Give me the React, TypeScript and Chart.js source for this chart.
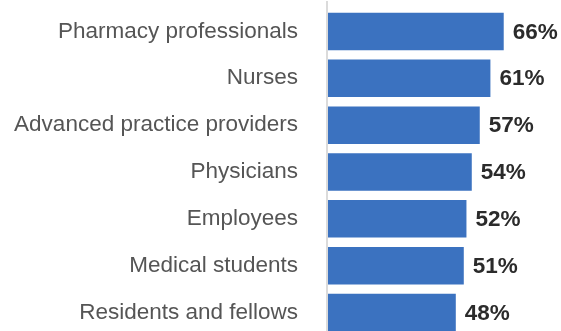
import React, { useEffect, useRef } from "react";
import { Chart, registerables } from "chart.js";

Chart.register(...registerables);

const categories = [
  "Pharmacy professionals",
  "Nurses",
  "Advanced practice providers",
  "Physicians",
  "Employees",
  "Medical students",
  "Residents and fellows",
];
const values = [66, 61, 57, 54, 52, 51, 48];
const valueLabels = ["66%", "61%", "57%", "54%", "52%", "51%", "48%"];

const BAR_COLOR = "#3B72C0";
const LABEL_COLOR = "#555555";
const VALUE_COLOR = "#2b2b2b";
const AXIS_COLOR = "#cfcfcf";

export default function App() {
  const ref = useRef<HTMLCanvasElement | null>(null);

  useEffect(() => {
    if (!ref.current) return;
    const valuePlugin = {
      id: "valueLabels",
      afterDatasetsDraw(chart: any) {
        const ctx = chart.ctx;
        const meta = chart.getDatasetMeta(0);
        ctx.save();
        ctx.font = "bold 22.5px 'Liberation Sans', Arial, sans-serif";
        ctx.fillStyle = VALUE_COLOR;
        ctx.textAlign = "left";
        ctx.textBaseline = "middle";
        meta.data.forEach((bar: any, i: number) => {
          ctx.fillText(valueLabels[i], bar.x + 9, bar.y + 1);
        });
        ctx.restore();
      },
    };
    const axisPlugin = {
      id: "axisLine",
      afterDraw(chart: any) {
        const ctx = chart.ctx;
        const x = chart.chartArea.left - 1;
        ctx.save();
        ctx.strokeStyle = AXIS_COLOR;
        ctx.lineWidth = 1.5;
        ctx.beginPath();
        ctx.moveTo(x, 1);
        ctx.lineTo(x, chart.height);
        ctx.stroke();
        ctx.restore();
      },
    };
    const chart = new Chart(ref.current, {
      type: "bar",
      data: {
        labels: categories,
        datasets: [
          {
            data: values,
            backgroundColor: BAR_COLOR,
            barPercentage: 0.8,
            categoryPercentage: 1.0,
          },
        ],
      },
      options: {
        indexAxis: "y",
        animation: false,
        responsive: false,
        maintainAspectRatio: false,
        layout: { padding: { top: 8, bottom: 2, right: 20, left: 0 } },
        plugins: {
          legend: { display: false },
          tooltip: { enabled: false },
        },
        scales: {
          x: {
            display: false,
            min: 0,
            max: 80,
          },
          y: {
            afterFit(scale: any) {
              scale.width = 328;
              scale.paddingTop = 0;
              scale.paddingBottom = 0;
            },
            grid: {
              display: true,
              drawOnChartArea: false,
              drawTicks: true,
              tickLength: 30,
              color: "rgba(0,0,0,0)",
            },
            border: { display: false },
            ticks: {
              color: LABEL_COLOR,
              padding: 0,
              font: { family: "'Liberation Sans', Arial, sans-serif", size: 22.5 },
            },
          },
        },
      },
      plugins: [valuePlugin, axisPlugin],
    });
    return () => chart.destroy();
  }, []);

  return (
    <div
      style={{
        position: "fixed",
        left: 0,
        top: 0,
        width: 561,
        height: 331,
        overflow: "hidden",
        background: "#fff",
      }}
    >
      <canvas ref={ref} width={561} height={338} style={{ display: "block" }} />
    </div>
  );
}
